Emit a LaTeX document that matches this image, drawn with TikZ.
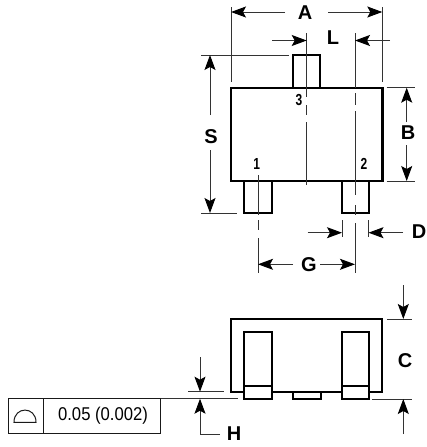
\documentclass[tikz,border=0pt]{standalone}
\usepackage{fontspec}
\usepackage{graphicx}
\setmainfont{Liberation Sans}
\usetikzlibrary{arrows.meta}
\tikzset{
  body/.style={line width=2.2pt,black},
  thinline/.style={line width=1pt,black!80},
  dim/.style={thinline,-{Stealth[length=15pt,width=11pt,inset=3pt,black]}},
  lettertext/.style={font=\fontsize{20}{20}\selectfont\bfseries,inner sep=0pt,anchor=center},
  pintext/.style={font=\fontsize{16}{16}\selectfont\bfseries,inner sep=0pt,anchor=center},
  tolbox/.style={line width=1pt,black!90}
}
\newcommand{\narrowed}[1]{\scalebox{0.75}[1]{#1}}
\begin{document}
\begin{tikzpicture}[x=1pt,y=-1pt]
\useasboundingbox (0,0) rectangle (427,447);
% top view
\draw[body] (231,87.7) rectangle (382.5,180.7);
\draw[body] (293.3,87.7) -- (293.3,55) -- (320.2,55) -- (320.2,87.7);
\draw[body] (244.3,180.7) -- (244.3,213.3) -- (271.7,213.3) -- (271.7,180.7);
\draw[body] (341.7,180.7) -- (341.7,213.3) -- (369,213.3) -- (369,180.7);
% centre lines
\draw[thinline] (306.7,33) -- (306.7,97) (306.7,105) -- (306.7,115) (306.7,122) -- (306.7,185);
\draw[thinline] (355,33) -- (355,88) (355,93) -- (355,105) (355,111) -- (355,195) (355,205) -- (355,215) (355,223) -- (355,273);
\draw[thinline] (258,175) -- (258,215) (258,220) -- (258,230) (258,238) -- (258,273);
% extension lines
\draw[thinline] (231,7) -- (231,81.7);
\draw[thinline] (382.3,7) -- (382.3,81.7);
\draw[thinline] (201,55) -- (289,55);
\draw[thinline] (201,213) -- (237,213);
\draw[thinline] (386.7,87.7) -- (415,87.7);
\draw[thinline] (386.7,181) -- (415,181);
\draw[thinline] (342,220) -- (342,237);
\draw[thinline] (368.5,220) -- (368.5,237);
% dimensions
\draw[dim] (285,12) -- (231,12);
\draw[dim] (328,12) -- (382.3,12);
\draw[dim] (272,40.5) -- (306.7,40.5);
\draw[dim] (390,40.5) -- (355,40.5);
\draw[dim] (210,115) -- (210,55);
\draw[dim] (210,150) -- (210,213);
\draw[dim] (406.7,122) -- (406.7,87.7);
\draw[dim] (406.7,145) -- (406.7,181);
\draw[dim] (307.7,232.7) -- (342,232.7);
\draw[dim] (403,232.7) -- (368.5,232.7);
\draw[dim] (293,264.3) -- (258,264.3);
\draw[dim] (320,264.3) -- (355,264.3);
\node[lettertext] (la) at (305,13) {A};
\node[lettertext] (ll) at (333,38) {L};
\node[lettertext] (ls) at (211,137) {S};
\node[lettertext] (lb) at (408,133) {B};
\node[lettertext] (ld) at (419,232) {D};
\node[lettertext] (lg) at (309,264.5) {G};
\node[pintext] (p1) at (256.7,163.5) {\narrowed{1}};
\node[pintext] (p2) at (364,164) {\narrowed{2}};
\node[pintext] (p3) at (299,100) {\narrowed{3}};
% side view
\draw[body] (244.3,391.7) -- (231,391.7) -- (231,319) -- (382.3,319) -- (382.3,391.7) -- (369,391.7);
\draw[body] (271.7,391.7) -- (341.7,391.7);
\draw[body] (244.3,332.3) rectangle (271.7,399);
\draw[body] (244.3,385.7) -- (271.7,385.7);
\draw[body] (341.7,332.3) rectangle (369,399);
\draw[body] (341.7,385.7) -- (369,385.7);
\draw[body] (293.3,391.7) -- (293.3,399) -- (320.7,399) -- (320.7,391.7);
% side dimensions
\draw[thinline] (387,319) -- (412,319);
\draw[thinline] (372,399) -- (412,399);
\draw[dim] (403.3,285) -- (403.3,319);
\draw[dim] (403.3,434) -- (403.3,399);
\node[lettertext] (lc) at (405,360.7) {C};
\draw[thinline] (188,391.7) -- (224,391.7);
\draw[thinline] (8.3,398.7) -- (238,398.7);
\draw[dim] (200,357) -- (200,391.7);
\draw[dim] (220,434) -- (200,434) -- (200,398.7);
\node[lettertext] (lh) at (234,434) {H};
% tolerance frame
\draw[tolbox] (8.3,398.7) rectangle (160.3,433);
\draw[tolbox] (43.3,398.7) -- (43.3,433);
\draw[tolbox] (14,422.3) .. controls (14,406) and (36,406) .. (36,422.3) -- cycle;
\node[inner sep=0pt] (tol) at (103,416) {\scalebox{0.9}[1]{\fontsize{18.5}{19}\selectfont 0.05 (0.002)}};
\end{tikzpicture}
\end{document}
